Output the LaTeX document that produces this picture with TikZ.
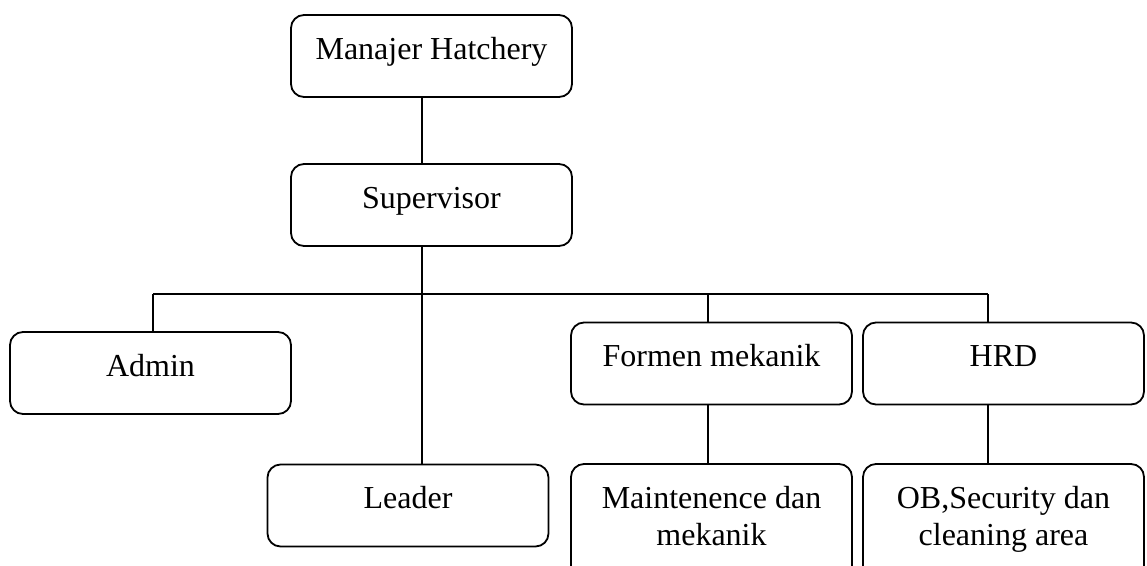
\documentclass[tikz,border=0pt]{standalone}
\usepackage{fontspec}
\setmainfont{Liberation Serif}
\begin{document}
\begin{tikzpicture}[
        x=1pt, y=-1pt, % pixel grid of the chart
        font=\fontsize{32}{37}\selectfont,
        unit/.style={rectangle, rounded corners=13pt, draw=black, line width=1.8pt, minimum width=281pt, inner xsep=6pt, inner ysep=22pt, text height=22pt, text depth=16pt, align=center},
        tall/.style={unit, text height=59pt},
        link/.style={draw=black, line width=1.5pt}
    ]
    \useasboundingbox (0,0) rectangle (1147,565);

    % Top of the chart
    \node[unit] (mgr) at (431.5, 56) {Manajer Hatchery};
    \node[unit] (sup) at (431.5, 205) {Supervisor};

    % Junctions on the bus
    \coordinate (trunk) at (422, 294);
    \coordinate (busA) at (153, 294);
    \coordinate (busF) at (708, 294);
    \coordinate (busH) at (988, 294);

    % Second level
    \node[unit] (adm) at (150.5, 373) {Admin};
    \node[unit] (lead) at (408, 505.5) {Leader};
    \node[unit] (form) at (711.5, 363.5) {Formen mekanik};
    \node[unit] (hrd) at (1003.5, 363.5) {HRD};

    % Third level
    \node[tall] (mnt) at (711.5, 523.5) {Maintenence dan\\mekanik};
    \node[tall] (ob) at (1003.5, 523.5) {OB,Security dan\\cleaning area};

    % Connectors
    \draw[link] (mgr.south -| trunk) -- (sup.north -| trunk);
    \draw[link] (sup.south -| trunk) -- (lead.north -| trunk);
    \draw[link] (busA) -- (busH);
    \draw[link] (busA) -- (adm.north -| busA);
    \draw[link] (busF) -- (form.north -| busF);
    \draw[link] (busH) -- (hrd.north -| busH);
    \draw[link] (form.south -| busF) -- (mnt.north -| busF);
    \draw[link] (hrd.south -| busH) -- (ob.north -| busH);

\end{tikzpicture}
\end{document}
